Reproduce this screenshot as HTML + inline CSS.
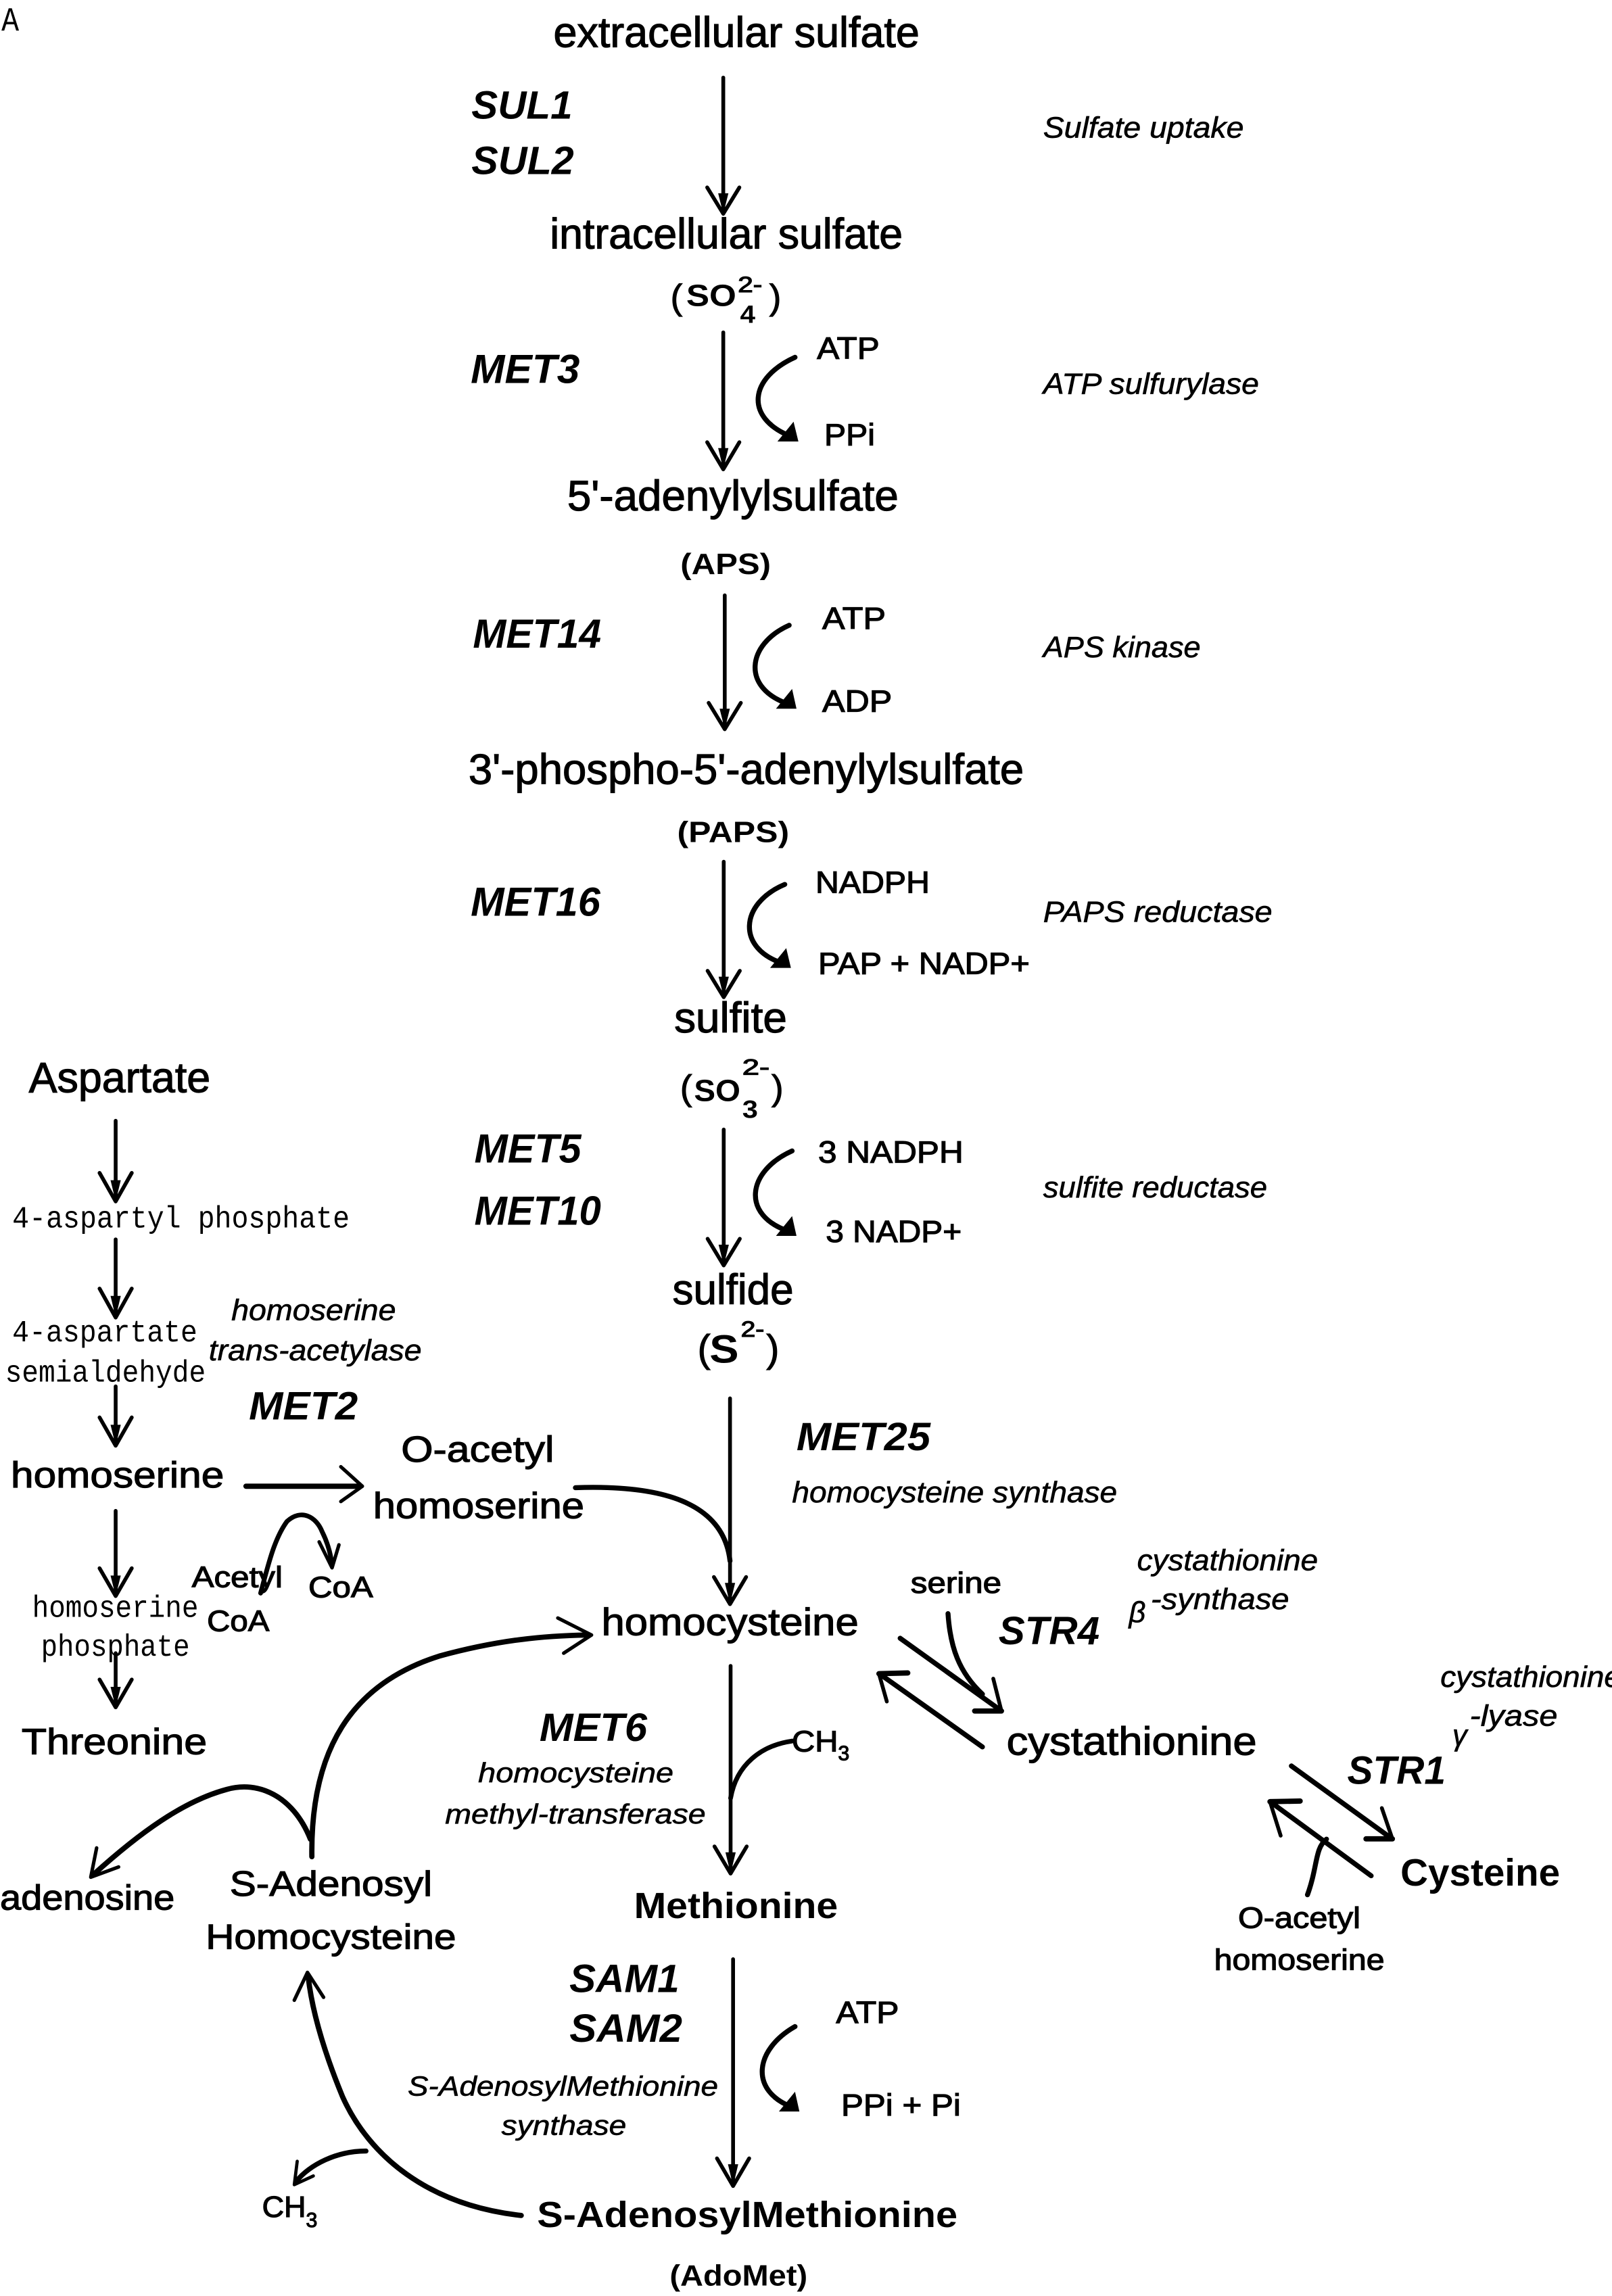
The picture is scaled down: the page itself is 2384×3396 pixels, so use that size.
<!DOCTYPE html>
<html><head><meta charset="utf-8"><style>
html,body{margin:0;padding:0;background:#fff;}
svg{display:block;}
text{font-family:"Liberation Sans",Arial,sans-serif;fill:#000;}
.n{stroke:#000;stroke-width:0.55;}
.i{font-style:italic;stroke:#000;stroke-width:0.3;}
.b{font-weight:bold;}
.bi{font-weight:bold;font-style:italic;}
.m{font-family:"Liberation Mono","Noto Sans CJK JP",monospace;}
.s{fill:none;stroke:#000;stroke-linecap:round;stroke-linejoin:round;}
</style></head><body>
<svg width="2384" height="3396" viewBox="0 0 1101 1568" preserveAspectRatio="none" xmlns="http://www.w3.org/2000/svg">
<rect x="0" y="0" width="1101" height="1568" fill="#fff"/>

<!-- ===== TEXT ===== -->
<text class="m" x="1" y="21" font-size="23" textLength="12" lengthAdjust="spacingAndGlyphs">A</text>

<text class="n" x="378" y="32" font-size="29" textLength="250" lengthAdjust="spacingAndGlyphs">extracellular sulfate</text>
<text class="bi" x="322" y="81" font-size="27" textLength="69" lengthAdjust="spacingAndGlyphs">SUL1</text>
<text class="bi" x="322" y="119" font-size="27" textLength="70" lengthAdjust="spacingAndGlyphs">SUL2</text>
<text class="i" x="712.5" y="94" font-size="20" textLength="137" lengthAdjust="spacingAndGlyphs">Sulfate uptake</text>

<text class="n" x="375.6" y="169.6" font-size="29" textLength="241" lengthAdjust="spacingAndGlyphs">intracellular sulfate</text>
<text class="n" x="458" y="211" font-size="24">(</text>
<text class="b" x="468.7" y="209" font-size="21" textLength="34.2" lengthAdjust="spacingAndGlyphs">SO</text>
<text class="n" x="504" y="199.5" font-size="15" textLength="16.6" lengthAdjust="spacingAndGlyphs">2-</text>
<text class="b" x="505.5" y="220.4" font-size="17" textLength="10.4" lengthAdjust="spacingAndGlyphs">4</text>
<text class="n" x="525.5" y="211" font-size="24">)</text>

<text class="bi" x="321.5" y="261.6" font-size="28" textLength="74.5" lengthAdjust="spacingAndGlyphs">MET3</text>
<text class="n" x="558" y="245" font-size="21" textLength="42.7" lengthAdjust="spacingAndGlyphs">ATP</text>
<text class="n" x="563" y="304" font-size="21" textLength="34.6" lengthAdjust="spacingAndGlyphs">PPi</text>
<text class="i" x="712.5" y="269" font-size="20" textLength="147.4" lengthAdjust="spacingAndGlyphs">ATP sulfurylase</text>

<text class="n" x="387.4" y="348.7" font-size="29" textLength="226.3" lengthAdjust="spacingAndGlyphs">5'-adenylylsulfate</text>
<text class="b" x="464.7" y="392" font-size="20" textLength="61.8" lengthAdjust="spacingAndGlyphs">(APS)</text>

<text class="bi" x="323" y="442.3" font-size="28" textLength="87.6" lengthAdjust="spacingAndGlyphs">MET14</text>
<text class="n" x="561.6" y="429.3" font-size="21" textLength="43.4" lengthAdjust="spacingAndGlyphs">ATP</text>
<text class="n" x="561.6" y="486" font-size="21" textLength="47.7" lengthAdjust="spacingAndGlyphs">ADP</text>
<text class="i" x="712.5" y="448.8" font-size="20" textLength="107.5" lengthAdjust="spacingAndGlyphs">APS kinase</text>

<text class="n" x="320" y="535.3" font-size="29" textLength="379.3" lengthAdjust="spacingAndGlyphs">3'-phospho-5'-adenylylsulfate</text>
<text class="b" x="462.5" y="575" font-size="20" textLength="76.5" lengthAdjust="spacingAndGlyphs">(PAPS)</text>

<text class="bi" x="321.5" y="625.5" font-size="28" textLength="88.5" lengthAdjust="spacingAndGlyphs">MET16</text>
<text class="n" x="557" y="609.6" font-size="21" textLength="78" lengthAdjust="spacingAndGlyphs">NADPH</text>
<text class="n" x="558.8" y="665" font-size="21" textLength="144.5" lengthAdjust="spacingAndGlyphs">PAP + NADP+</text>
<text class="i" x="712.5" y="629.5" font-size="20" textLength="156.5" lengthAdjust="spacingAndGlyphs">PAPS reductase</text>

<text class="n" x="460.5" y="705" font-size="29" textLength="77" lengthAdjust="spacingAndGlyphs">sulfite</text>
<text class="n" x="464.6" y="751" font-size="24">(</text>
<text class="b" x="474" y="752" font-size="21" textLength="31.7" lengthAdjust="spacingAndGlyphs">SO</text>
<text class="n" x="507" y="734" font-size="15" textLength="18.6" lengthAdjust="spacingAndGlyphs">2-</text>
<text class="b" x="507" y="763.5" font-size="17" textLength="10.7" lengthAdjust="spacingAndGlyphs">3</text>
<text class="n" x="527" y="751" font-size="24">)</text>

<text class="bi" x="324" y="794" font-size="28" textLength="73" lengthAdjust="spacingAndGlyphs">MET5</text>
<text class="bi" x="324" y="836.3" font-size="28" textLength="86.5" lengthAdjust="spacingAndGlyphs">MET10</text>
<text class="n" x="558.8" y="794" font-size="21" textLength="99.2" lengthAdjust="spacingAndGlyphs">3 NADPH</text>
<text class="n" x="564" y="848.2" font-size="21" textLength="92.8" lengthAdjust="spacingAndGlyphs">3 NADP+</text>
<text class="i" x="712.5" y="817.6" font-size="20" textLength="153" lengthAdjust="spacingAndGlyphs">sulfite reductase</text>

<text class="n" x="459.3" y="890.6" font-size="29" textLength="82.7" lengthAdjust="spacingAndGlyphs">sulfide</text>
<text class="n" x="476.5" y="930" font-size="26">(</text>
<text class="b" x="484.6" y="930.6" font-size="27" textLength="20" lengthAdjust="spacingAndGlyphs">S</text>
<text class="n" x="506" y="912.8" font-size="15" textLength="16" lengthAdjust="spacingAndGlyphs">2-</text>
<text class="n" x="523.5" y="930" font-size="26">)</text>

<!-- left column -->
<text class="n" x="19.7" y="746" font-size="29" textLength="124" lengthAdjust="spacingAndGlyphs">Aspartate</text>
<text class="m" x="8.4" y="838.3" font-size="21" textLength="230.4" lengthAdjust="spacingAndGlyphs">4-aspartyl phosphate</text>
<text class="m" x="8.4" y="916" font-size="21" textLength="126.4" lengthAdjust="spacingAndGlyphs">4-aspartate</text>
<text class="m" x="3.5" y="943.5" font-size="21" textLength="137" lengthAdjust="spacingAndGlyphs">semialdehyde</text>
<text class="i" x="158" y="901.4" font-size="20" textLength="112.4" lengthAdjust="spacingAndGlyphs">homoserine</text>
<text class="i" x="142.6" y="929" font-size="20" textLength="145.4" lengthAdjust="spacingAndGlyphs">trans-acetylase</text>
<text class="bi" x="170" y="969.5" font-size="27" textLength="74.4" lengthAdjust="spacingAndGlyphs">MET2</text>
<text class="n" x="7.4" y="1015.8" font-size="25" textLength="145.6" lengthAdjust="spacingAndGlyphs">homoserine</text>
<text class="n" x="274" y="998.2" font-size="25" textLength="104.5" lengthAdjust="spacingAndGlyphs">O-acetyl</text>
<text class="n" x="254.8" y="1036.9" font-size="25" textLength="144.2" lengthAdjust="spacingAndGlyphs">homoserine</text>
<text class="n" x="131" y="1083.9" font-size="20" textLength="62" lengthAdjust="spacingAndGlyphs">Acetyl</text>
<text class="n" x="141.4" y="1113.9" font-size="20" textLength="42.6" lengthAdjust="spacingAndGlyphs">CoA</text>
<text class="n" x="210.6" y="1090.9" font-size="20" textLength="44.2" lengthAdjust="spacingAndGlyphs">CoA</text>
<text class="m" x="22" y="1104.2" font-size="21" textLength="113.5" lengthAdjust="spacingAndGlyphs">homoserine</text>
<text class="m" x="28" y="1130.7" font-size="21" textLength="101.6" lengthAdjust="spacingAndGlyphs">phosphate</text>
<text class="n" x="14.7" y="1197.9" font-size="25" textLength="126.7" lengthAdjust="spacingAndGlyphs">Threonine</text>

<!-- MET25 / homocysteine -->
<text class="bi" x="544" y="990.5" font-size="27" textLength="91.5" lengthAdjust="spacingAndGlyphs">MET25</text>
<text class="i" x="541" y="1026" font-size="20" textLength="222" lengthAdjust="spacingAndGlyphs">homocysteine synthase</text>
<text class="n" x="410.8" y="1116.6" font-size="26" textLength="175.6" lengthAdjust="spacingAndGlyphs">homocysteine</text>

<!-- right side -->
<text class="n" x="622" y="1087.9" font-size="20" textLength="62" lengthAdjust="spacingAndGlyphs">serine</text>
<text class="bi" x="682" y="1123" font-size="27" textLength="69" lengthAdjust="spacingAndGlyphs">STR4</text>
<text class="i" x="776.6" y="1072.4" font-size="20" textLength="123.6" lengthAdjust="spacingAndGlyphs">cystathionine</text>
<text class="i" x="771" y="1108" font-size="20">β</text>
<text class="i" x="786" y="1099" font-size="20" textLength="94.5" lengthAdjust="spacingAndGlyphs">-synthase</text>
<text class="n" x="687.5" y="1198.3" font-size="27" textLength="170.9" lengthAdjust="spacingAndGlyphs">cystathionine</text>
<text class="i" x="983.8" y="1152" font-size="20" textLength="123.6" lengthAdjust="spacingAndGlyphs">cystathionine</text>
<text class="i" x="992" y="1192" font-size="20">γ</text>
<text class="i" x="1003.8" y="1178.5" font-size="20" textLength="60" lengthAdjust="spacingAndGlyphs">-lyase</text>
<text class="bi" x="920.2" y="1218.2" font-size="27" textLength="67.2" lengthAdjust="spacingAndGlyphs">STR1</text>
<text class="b" x="956.5" y="1287.8" font-size="26" textLength="109" lengthAdjust="spacingAndGlyphs">Cysteine</text>
<text class="n" x="845.6" y="1316.5" font-size="20" textLength="83.6" lengthAdjust="spacingAndGlyphs">O-acetyl</text>
<text class="n" x="829.3" y="1345.2" font-size="20" textLength="116.3" lengthAdjust="spacingAndGlyphs">homoserine</text>

<!-- MET6 -->
<text class="bi" x="368.5" y="1189" font-size="27" textLength="73.5" lengthAdjust="spacingAndGlyphs">MET6</text>
<text class="i" x="326.6" y="1217" font-size="19" textLength="133.4" lengthAdjust="spacingAndGlyphs">homocysteine</text>
<text class="i" x="304" y="1245.3" font-size="19" textLength="178" lengthAdjust="spacingAndGlyphs">methyl-transferase</text>
<text class="n" x="540.8" y="1196" font-size="20" textLength="31.6" lengthAdjust="spacingAndGlyphs">CH</text>
<text class="n" x="572.4" y="1202" font-size="14">3</text>

<!-- SAH / adenosine -->
<text class="n" x="156.9" y="1294.7" font-size="24" textLength="138.3" lengthAdjust="spacingAndGlyphs">S-Adenosyl</text>
<text class="n" x="140.5" y="1331" font-size="24" textLength="171" lengthAdjust="spacingAndGlyphs">Homocysteine</text>
<text class="n" x="0" y="1304.1" font-size="24" textLength="119.3" lengthAdjust="spacingAndGlyphs">adenosine</text>

<text class="b" x="433" y="1310" font-size="25" textLength="139.3" lengthAdjust="spacingAndGlyphs">Methionine</text>
<text class="bi" x="388.9" y="1360.4" font-size="27" textLength="75.1" lengthAdjust="spacingAndGlyphs">SAM1</text>
<text class="bi" x="389" y="1394.4" font-size="27" textLength="77" lengthAdjust="spacingAndGlyphs">SAM2</text>
<text class="i" x="278.4" y="1431" font-size="19" textLength="212.1" lengthAdjust="spacingAndGlyphs">S-AdenosylMethionine</text>
<text class="i" x="342.5" y="1458" font-size="19" textLength="85.3" lengthAdjust="spacingAndGlyphs">synthase</text>
<text class="n" x="571" y="1381.5" font-size="21" textLength="43" lengthAdjust="spacingAndGlyphs">ATP</text>
<text class="n" x="574.5" y="1444.8" font-size="21" textLength="81.7" lengthAdjust="spacingAndGlyphs">PPi + Pi</text>
<text class="b" x="366.8" y="1521" font-size="25" textLength="287.2" lengthAdjust="spacingAndGlyphs">S-AdenosylMethionine</text>
<text class="b" x="457.4" y="1560.9" font-size="20" textLength="94.1" lengthAdjust="spacingAndGlyphs">(AdoMet)</text>
<text class="n" x="179" y="1514" font-size="20" textLength="30" lengthAdjust="spacingAndGlyphs">CH</text>
<text class="n" x="209" y="1521" font-size="14">3</text>

<!-- ===== MAIN VERTICAL ARROWS ===== -->
<g class="s" stroke-width="2.6">
  <path d="M494,53 V144"/><path d="M483,128 L494,146 L505,128"/>
  <path d="M494,227 V318"/><path d="M483,302 L494,320.5 L505,302"/>
  <path d="M495,406.6 V496"/><path d="M484,480 L495,498 L506,480"/>
  <path d="M494.3,588.5 V679"/><path d="M483.3,663 L494.3,681 L505.3,663"/>
  <path d="M494.3,771.4 V862"/><path d="M483.3,846 L494.3,864.2 L505.3,846"/>
  <path d="M498.6,955 V1093"/><path d="M487.6,1077 L498.6,1095.5 L509.6,1077"/>
  <path d="M499,1137.7 V1277"/><path d="M488,1261 L499,1279.5 L510,1261"/>
  <path d="M500.7,1338 V1490"/><path d="M489.7,1474 L500.7,1492.9 L511.7,1474"/>
  <!-- left column -->
  <path d="M79,765.4 V818"/><path d="M68,801 L79,820.5 L90,801"/>
  <path d="M79,846.4 V897"/><path d="M68,880 L79,899.8 L90,880"/>
  <path d="M79,946.8 V985"/><path d="M68,968 L79,987.3 L90,968"/>
  <path d="M79,1031.8 V1088"/><path d="M68,1071 L79,1090 L90,1071"/>
  <path d="M79,1129 V1164"/><path d="M68,1147 L79,1166 L90,1147"/>
</g>
<g fill="#000">
  <path d="M490.5,132 L497.5,132 L494,146 Z"/>
  <path d="M490.5,306 L497.5,306 L494,320.5 Z"/>
  <path d="M491.5,484 L498.5,484 L495,498 Z"/>
  <path d="M490.8,667 L497.8,667 L494.3,681 Z"/>
  <path d="M490.8,850 L497.8,850 L494.3,864.2 Z"/>
  <path d="M495.1,1081 L502.1,1081 L498.6,1095.5 Z"/>
  <path d="M495.5,1265 L502.5,1265 L499,1279.5 Z"/>
  <path d="M497.2,1478 L504.2,1478 L500.7,1492.9 Z"/>
  <path d="M75.5,806 L82.5,806 L79,820.5 Z"/>
  <path d="M75.5,885 L82.5,885 L79,899.8 Z"/>
  <path d="M75.5,973 L82.5,973 L79,987.3 Z"/>
  <path d="M75.5,1076 L82.5,1076 L79,1090 Z"/>
  <path d="M75.5,1152 L82.5,1152 L79,1166 Z"/>
</g>

<!-- horizontal homoserine -> O-acetyl homoserine -->
<g class="s">
  <path d="M168,1015 H245" stroke-width="3.6"/>
  <path d="M232.8,1001.7 L247.5,1015 L232.8,1025.4" stroke-width="2.4"/>
</g>

<!-- ===== COFACTOR CURVES ===== -->
<g class="s" stroke-width="3.4">
  <path d="M543,244 C512,258 508,285 540,298"/>
  <path d="M539,427 C510,440 506,470 539,481"/>
  <path d="M536,604 C505,617 503,648 535,658"/>
  <path d="M541,786 C510,800 506,830 539,841"/>
  <path d="M543,1384 C515,1400 512,1428 541,1439"/>
</g>
<g fill="#000">
  <path d="M545.3,301.5 L531,301.5 L542,288 Z"/>
  <path d="M544,484 L530,484 L541,470.5 Z"/>
  <path d="M540.2,661 L526,661 L537,647.5 Z"/>
  <path d="M544,844 L530,844 L541,830.5 Z"/>
  <path d="M546,1442 L532,1442 L543,1428.5 Z"/>
</g>

<!-- O-acetyl homoserine -> MET25 line -->
<path class="s" stroke-width="3.4" d="M393,1016 C450,1014 494,1025 498.6,1066"/>

<!-- acetyl CoA -> CoA -->
<path class="s" stroke-width="3.2" d="M178,1088 C184,1065 188,1050 196,1039 C206,1030 216,1036 220,1046 C224,1054 226,1062 226.8,1069"/>
<path class="s" stroke-width="2.4" d="M218,1053 L226.8,1070.7 L231.5,1055"/>

<!-- MET6 CH3 -->
<path class="s" stroke-width="3.2" d="M541,1189 C520,1192 503,1205 499,1228"/>

<!-- SAH -> homocysteine arc -->
<path class="s" stroke-width="3.6" d="M213,1268 C212,1195 240,1150 300,1131 C340,1120 372,1117 401,1116.6"/>
<path class="s" stroke-width="2.4" d="M381,1105 L404,1116.6 L385,1129"/>

<!-- SAH -> adenosine -->
<path class="s" stroke-width="3.6" d="M212,1256 C200,1226 176,1216 155,1222 C125,1230 95,1252 64,1280"/>
<path class="s" stroke-width="2.4" d="M66,1262 L62,1282 L81,1275"/>

<!-- AdoMet -> SAH -->
<path class="s" stroke-width="3.6" d="M356,1513 C292,1506 252,1472 234,1432 C220,1398 213,1372 210.5,1350"/>
<path class="s" stroke-width="2.4" d="M201,1366 L210,1347 L221,1364"/>
<!-- CH3 branch -->
<path class="s" stroke-width="3.4" d="M250,1469 C230,1469 212,1478 202,1490"/>
<path class="s" stroke-width="2.2" d="M203,1476 L201,1492 L214,1486"/>

<!-- ===== EQUILIBRIA ===== -->
<g class="s" stroke-width="3.4">
  <path d="M614.8,1118.8 L682,1167"/>
  <path d="M671,1193 L602,1144"/>
  <path d="M882,1206 L949,1254.5"/>
  <path d="M936.5,1281 L869,1231.5"/>
  <path d="M647.5,1102 C649,1125 655,1142 671,1157"/>
  <path d="M893,1294 C900,1275 898,1262 906,1256"/>
</g>
<g class="s" stroke-width="2.6">
  <path d="M678.4,1146.4 L684,1168.5"/><path d="M684,1168.5 L665.7,1168.5" stroke-width="3.6"/>
  <path d="M605.7,1162 L600.3,1143"/><path d="M600.3,1143 L620,1142.5" stroke-width="3.6"/>
  <path d="M943.8,1234.8 L951,1255.8"/><path d="M951,1255.8 L933,1255.8" stroke-width="3.6"/>
  <path d="M874.7,1253.6 L867.4,1230.4"/><path d="M867.4,1230.4 L888,1230" stroke-width="3.6"/>
</g>
</svg>
</body></html>
